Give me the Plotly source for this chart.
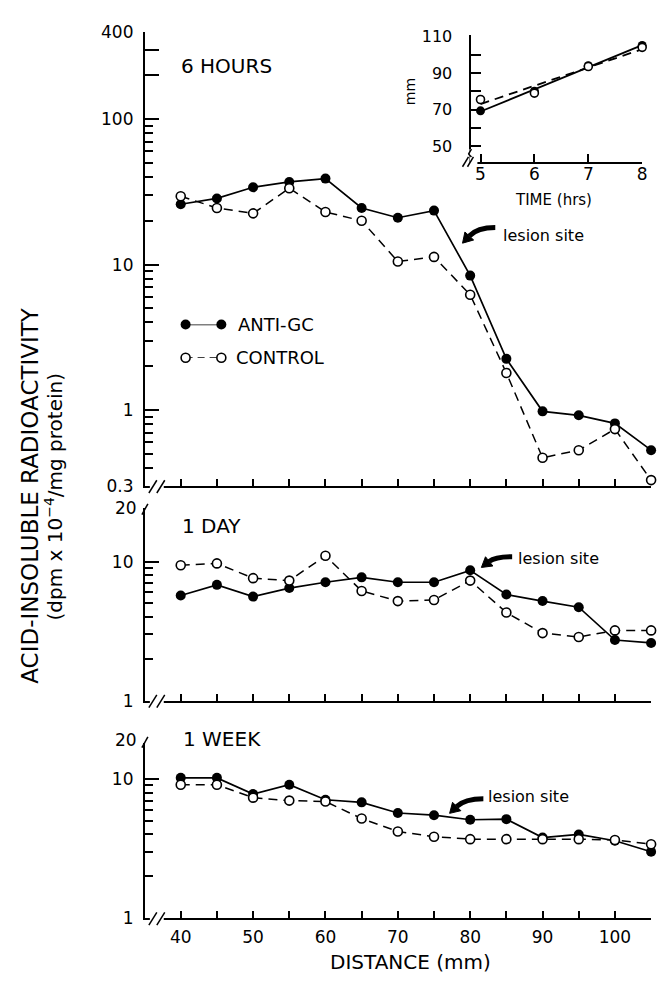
import math
import numpy as np
import plotly.graph_objects as go

W, H = 670, 985

# ---------------- data ----------------
distance_mm = [40, 45, 50, 55, 60, 65, 70, 75, 80, 85, 90, 95, 100, 105]

hours6_anti_gc = [26, 28.5, 34, 37, 39, 24.5, 21, 23.5, 8.4, 2.25, 0.98, 0.92, 0.81, 0.53]
hours6_control = [29.5, 24.5, 22.5, 33.5, 23, 20, 10.5, 11.3, 6.2, 1.8, 0.47, 0.53, 0.74, 0.33]

day1_anti_gc = [5.7, 6.8, 5.6, 6.45, 7.1, 7.7, 7.1, 7.1, 8.65, 5.8, 5.2, 4.7, 2.73, 2.6]
day1_control = [9.4, 9.7, 7.6, 7.3, 11.0, 6.15, 5.2, 5.3, 7.3, 4.3, 3.06, 2.87, 3.2, 3.2]

week1_anti_gc = [10.2, 10.2, 7.8, 9.1, 7.1, 6.8, 5.7, 5.5, 5.1, 5.15, 3.8, 4.0, 3.6, 3.0]
week1_control = [9.1, 9.1, 7.35, 7.0, 6.9, 5.2, 4.2, 3.85, 3.7, 3.7, 3.7, 3.7, 3.65, 3.4]

time_hrs = [5, 6, 7, 8]
front_anti_gc_mm = [69.3, 80, 94, 105]
front_control_mm = [75.5, 79, 93.5, 104]

x_tick_vals = [40, 45, 50, 55, 60, 65, 70, 75, 80, 85, 90, 95, 100, 105]
x_tick_text = ["40", " ", "50", " ", "60", " ", "70", " ", "80", " ", "90", " ", "100", " "]

top_y_tick_vals = [0.3, 1, 10, 100, 200, 300, 400]
top_y_tick_text = ["0.3", "1", "10", "100", " ", " ", "400"]
top_y_minor = [0.4, 0.5, 0.6, 0.7, 0.8, 0.9, 2, 3, 4, 5, 6, 7, 8, 9,
               20, 30, 40, 50, 60, 70, 80, 90]
low_y_tick_vals = [1, 10]
low_y_tick_text = ["1", "10"]
low_y_minor = [2, 3, 4, 5, 6, 7, 8, 9]

inset_y_tick_vals = [50, 60, 70, 80, 90, 100, 110]
inset_y_tick_text = ["50", " ", "70", " ", "90", " ", "110"]
inset_x_tick_vals = [5, 6, 7, 8]

legend_key_x = [0, 1]

FONT = "DejaVu Sans, Liberation Sans, Arial, sans-serif"


def px(x):
    return x / W


def py(y):
    return 1 - y / H


fig = go.Figure()

panels = [("x", "y", hours6_anti_gc, hours6_control),
          ("x2", "y2", day1_anti_gc, day1_control),
          ("x3", "y3", week1_anti_gc, week1_control)]

for xa, ya, anti, ctrl in panels:
    fig.add_trace(go.Scatter(
        x=distance_mm, y=anti, xaxis=xa, yaxis=ya, mode="lines+markers",
        line=dict(color="black", width=1.7),
        marker=dict(symbol="circle", size=10, color="black"),
        cliponaxis=False, showlegend=False, name="ANTI-GC"))
    fig.add_trace(go.Scatter(
        x=distance_mm, y=ctrl, xaxis=xa, yaxis=ya, mode="lines+markers",
        line=dict(color="black", width=1.5, dash="9px,6px"),
        marker=dict(symbol="circle", size=9, color="white",
                    line=dict(color="black", width=1.6)),
        cliponaxis=False, showlegend=False, name="CONTROL"))

# invisible traces so the minor-tick overlay axes are built
for xa, ya in (("x", "y6"), ("x2", "y7"), ("x3", "y8")):
    fig.add_trace(go.Scatter(x=[], y=[], xaxis=xa, yaxis=ya, mode="markers",
                             showlegend=False, hoverinfo="skip"))

# inset: regression lines + points
ends = [time_hrs[0], time_hrs[-1]]
ka, ba = np.polyfit(time_hrs, front_anti_gc_mm, 1)
kc, bc = np.polyfit(time_hrs, front_control_mm, 1)
fig.add_trace(go.Scatter(x=ends, y=[ka * t + ba for t in ends], xaxis="x4", yaxis="y4",
                         mode="lines", line=dict(color="black", width=1.8),
                         cliponaxis=False, showlegend=False))
fig.add_trace(go.Scatter(x=ends, y=[kc * t + bc for t in ends], xaxis="x4", yaxis="y4",
                         mode="lines", line=dict(color="black", width=1.8, dash="9px,6px"),
                         cliponaxis=False, showlegend=False))
fig.add_trace(go.Scatter(x=time_hrs, y=front_anti_gc_mm, xaxis="x4", yaxis="y4",
                         mode="markers", marker=dict(size=9, color="black"),
                         cliponaxis=False, showlegend=False))
fig.add_trace(go.Scatter(x=time_hrs, y=front_control_mm, xaxis="x4", yaxis="y4",
                         mode="markers",
                         marker=dict(size=8, color="white", line=dict(color="black", width=1.6)),
                         cliponaxis=False, showlegend=False))

# legend keys
fig.add_trace(go.Scatter(x=legend_key_x, y=[1, 1], xaxis="x5", yaxis="y5",
                         mode="lines+markers", line=dict(color="black", width=1.5),
                         marker=dict(size=10, color="black"),
                         cliponaxis=False, showlegend=False))
fig.add_trace(go.Scatter(x=legend_key_x, y=[0, 0], xaxis="x5", yaxis="y5",
                         mode="lines+markers", line=dict(color="black", width=1.5, dash="7px,5px"),
                         marker=dict(size=9, color="white", line=dict(color="black", width=1.6)),
                         cliponaxis=False, showlegend=False))

xdom = [px(146), px(656)]
x_common = dict(domain=xdom, range=[35.05, 105.0], showgrid=False, zeroline=False,
                showline=True, linecolor="black", linewidth=2,
                ticks="inside", ticklen=7, tickwidth=1.5, tickcolor="black",
                tickmode="array", tickvals=x_tick_vals, ticktext=x_tick_text,
                tickfont=dict(family=FONT, size=17, color="black"))

y_common = dict(type="log", showgrid=False, zeroline=False, showline=True,
                linecolor="black", linewidth=2, ticks="inside", ticklen=14,
                tickwidth=1.5, tickcolor="black", tickmode="array",
                ticklabelstandoff=6,
                tickfont=dict(family=FONT, size=17, color="black"))

minor_axis = dict(type="log", showgrid=False, zeroline=False, showline=False,
                  ticks="inside", ticklen=8, tickwidth=1.6, tickcolor="black",
                  tickmode="array", showticklabels=False, side="left")

top_range = [math.log10(0.3), math.log10(400)]
mid_range = [0, 197 / 142]
bot_range = [0, 179 / 142]

fig.update_layout(
    width=W, height=H, margin=dict(l=0, r=0, t=0, b=0),
    paper_bgcolor="white", plot_bgcolor="white", showlegend=False,
    font=dict(family=FONT, color="black"),
    xaxis=dict(x_common, anchor="y", showticklabels=False),
    xaxis2=dict(x_common, anchor="y2", showticklabels=False),
    xaxis3=dict(x_common, anchor="y3", showticklabels=True, ticklabelstandoff=2),
    yaxis=dict(y_common, anchor="x", domain=[py(486), py(22)], range=top_range,
               tickvals=top_y_tick_vals, ticktext=top_y_tick_text),
    yaxis2=dict(y_common, anchor="x2", domain=[py(705), py(508)], range=mid_range,
                tickvals=low_y_tick_vals, ticktext=low_y_tick_text),
    yaxis3=dict(y_common, anchor="x3", domain=[py(927), py(748)], range=bot_range,
                tickvals=low_y_tick_vals, ticktext=low_y_tick_text),
    yaxis6=dict(minor_axis, anchor="x", overlaying="y", range=top_range,
                tickvals=top_y_minor),
    yaxis7=dict(minor_axis, anchor="x2", overlaying="y2", range=mid_range,
                tickvals=low_y_minor),
    yaxis8=dict(minor_axis, anchor="x3", overlaying="y3", range=bot_range,
                tickvals=low_y_minor),
    xaxis4=dict(anchor="y4", domain=[px(475), px(647)], range=[4.832, 8.0],
                showgrid=False, zeroline=False, showline=True, linecolor="black",
                linewidth=2, ticks="inside", ticklen=8, tickwidth=1.5, tickcolor="black",
                tickmode="array", tickvals=inset_x_tick_vals, ticklabelstandoff=-4,
                tickfont=dict(family=FONT, size=17, color="black")),
    yaxis4=dict(anchor="x4", domain=[py(155), py(26)], range=[41.4, 110.5],
                showgrid=False, zeroline=False, showline=True, linecolor="black",
                linewidth=2, ticks="inside", ticklen=10, tickwidth=1.5, tickcolor="black",
                tickmode="array", tickvals=inset_y_tick_vals, ticktext=inset_y_tick_text,
                ticklabelstandoff=14,
                tickfont=dict(family=FONT, size=16, color="black")),
    xaxis5=dict(anchor="y5", domain=[px(187), px(223)], range=[0, 1], visible=False),
    yaxis5=dict(anchor="x5", domain=[py(355), py(321)], range=[0, 1], visible=False),
)

ann = []


def text(x, y, s, size, xanchor="left", angle=0):
    ann.append(dict(x=px(x), y=py(y), xref="paper", yref="paper", text=s,
                    showarrow=False, xanchor=xanchor, yanchor="middle",
                    textangle=angle, font=dict(family=FONT, size=size, color="black")))


text(180, 57, "6 HOURS", 20)
text(181, 527, "1 DAY", 20)
text(182, 744, "1 WEEK", 20)
text(505, 230, "lesion site", 16)
text(520, 560, "lesion site", 16)
text(490, 803, "lesion site", 16)
text(238, 321, "ANTI-GC", 18)
text(236, 355, "CONTROL", 18)
text(414, 972, "DISTANCE (mm)", 20, xanchor="center")
text(30, 495, "ACID-INSOLUBLE RADIOACTIVITY", 23, xanchor="center", angle=-90)
text(54, 497, "(dpm x 10<sup>−4</sup>/mg protein)", 20, xanchor="center", angle=-90)
text(140, 508, "20", 17, xanchor="right")
text(140, 745, "20", 17, xanchor="right")
text(413, 83, "mm", 14, xanchor="center", angle=-90)
text(558, 194, "TIME (hrs)", 15, xanchor="center")
fig.update_layout(annotations=ann)

shapes = []


def seg(x0, y0, x1, y1, w=1.5):
    shapes.append(dict(type="line", xref="paper", yref="paper",
                       x0=px(x0), y0=py(y0), x1=px(x1), y1=py(y1),
                       line=dict(color="black", width=w)))


def white_rect(x0, y0, x1, y1):
    shapes.append(dict(type="rect", xref="paper", yref="paper",
                       x0=px(x0), y0=py(y0), x1=px(x1), y1=py(y1),
                       line=dict(width=0), fillcolor="white", layer="above"))


# axis breaks on x axes
for Y in (486, 705, 927):
    white_rect(151, Y - 3, 165, Y + 3)
    seg(150, Y + 7, 158, Y - 6)
    seg(158, Y + 7, 166, Y - 6)

# top-of-axis breaks
for Y in (510, 748):
    seg(143, Y + 5, 149, Y - 6)

# inset break
white_rect(473, 142, 481, 158)
seg(475, 142, 472, 147, 1.5)
seg(472, 147, 475, 150, 1.5)
seg(466, 160, 472, 150)
seg(471, 160, 477, 150)


def arrow(tail, tip):
    tx, ty = tail
    hx, hy = tip
    cx, cy = hx + 0.45 * (tx - hx), ty
    dx, dy = hx - cx, hy - cy
    n = math.hypot(dx, dy)
    ux, uy = dx / n, dy / n
    L, hw = 10, 6
    bx, by = hx - L * ux, hy - L * uy
    body = f"M {px(tx)},{py(ty)} Q {px(cx)},{py(cy)} {px(bx)},{py(by)}"
    shapes.append(dict(type="path", xref="paper", yref="paper", path=body,
                       line=dict(color="black", width=5)))
    head = (f"M {px(hx)},{py(hy)} L {px(bx - hw * uy)},{py(by + hw * ux)} "
            f"L {px(bx + hw * uy)},{py(by - hw * ux)} Z")
    shapes.append(dict(type="path", xref="paper", yref="paper", path=head,
                       line=dict(color="black", width=1), fillcolor="black"))


arrow((499, 222), (466, 238))
arrow((516, 558), (485, 569))
arrow((487, 805), (453, 820))

fig.update_layout(shapes=shapes)

fig.write_html("out.html")
